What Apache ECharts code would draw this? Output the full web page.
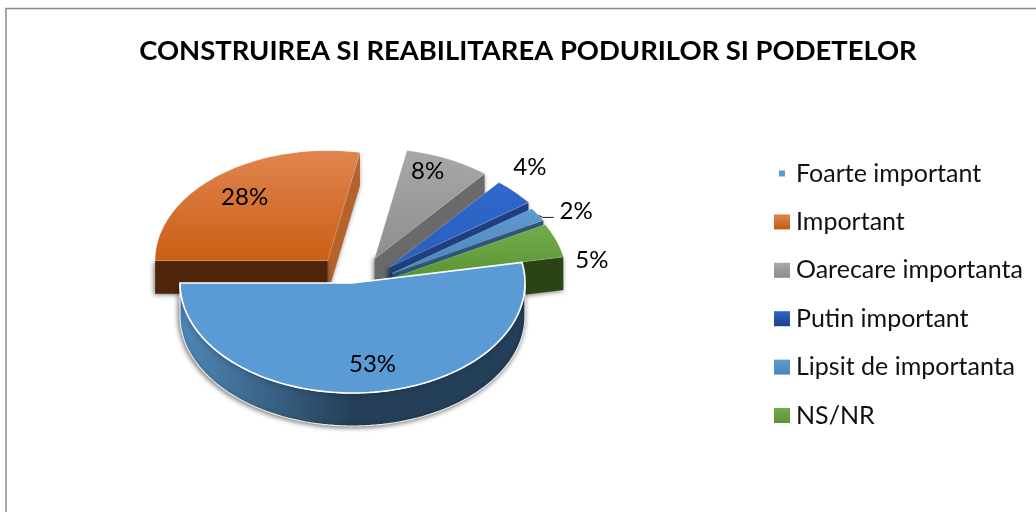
<!DOCTYPE html>
<html><head><meta charset="utf-8">
<style>html,body{margin:0;padding:0;background:#fff}#c{width:1036px;height:512px}</style>
<script src="https://cdn.jsdelivr.net/npm/echarts@6/dist/echarts.min.js"></script>
</head><body><div id="c"></div>
<script>
// ---- data ----
const categories = ['Foarte important','Important','Oarecare importanta','Putin important','Lipsit de importanta','NS/NR'];
const shares = [53, 28, 8, 4, 2, 5];
const chartTitle = 'CONSTRUIREA SI REABILITAREA PODURILOR SI PODETELOR';
// ---- layout / style (not data) ----
const firstAngle = 79.2, RX = 172.5, RY = 110, DEPTH = 33, CX = 352.5, CY = 283;
const explodeX = [0, 39, 52, 50, 47, 44];
const explodeY = [0, 29, 27, 23, 18, 16];
const labelOffset = [[20,81],[-83,-63],[53,-87],[141,-100],[184,-62],[198,-17]];
const grad = (a,b,h) => new echarts.graphic.LinearGradient(0,0,h?1:0,h?0:1,[{offset:0,color:a},{offset:1,color:b}]);
const topFill = [
  () => '#5B9BD5', () => grad('#E08550','#CB5E15'), () => grad('#A8A8A8','#8E8E8E'),
  () => grad('#2F67CC','#2C5FBC'), () => grad('#5E9BD0','#4A84BA'), () => grad('#72AD4C','#5B9433')];
const sideFill = ['#3B6E99','#B5622B','#6A6A6A','#1E3F80','#2E5476','#2A4513'];
const frontFill = [null,'#50260A',null,null,null,null];
const zOrder = [10,1,2,3,4,5];
// start angle of every slice, clockwise from the top, in data order
const starts = []; { let a = firstAngle; const tot = shares.reduce((s,v)=>s+v,0);
  shares.forEach(v => { starts.push(a); a += v/tot*360; }); }
const span = i => shares[i]/shares.reduce((s,v)=>s+v,0)*360;
const rad = d => d*Math.PI/180;

function arcPts(ax, ay, a0, a1, dy) {
  const pts = [], n = Math.max(4, Math.ceil(Math.abs(a1-a0)/2));
  for (let k=0;k<=n;k++){ const t=rad(a0+(a1-a0)*k/n);
    pts.push([ax+RX*Math.sin(t), ay-RY*Math.cos(t)+dy]); }
  return pts;
}
function render(i) {
  return function(params, api) {
    const a0 = starts[i], a1 = a0 + span(i), mid = rad((a0+a1)/2);
    const ax = CX + explodeX[i]*Math.sin(mid), ay = CY - explodeY[i]*Math.cos(mid);
    const kids = [];
    const shadow = {shadowBlur:5, shadowColor:'rgba(0,0,0,0.55)', shadowOffsetX:-1, shadowOffsetY:1};
    if (i === 0) {
      // front rim of the large slice
      const top = arcPts(ax, ay, 90, a1, 0), bot = arcPts(ax, ay, 90, a1, DEPTH);
      kids.push({type:'polygon', shape:{points: top.concat(bot.reverse())},
        style:Object.assign({fill:new echarts.graphic.LinearGradient(1,0,0,0,[
          {offset:0,color:'#24405A'},{offset:0.5,color:'#253F57'},{offset:1,color:'#4F88B8'}]),
          stroke:'#e8e8e8', lineWidth:1.2}, shadow)});
    } else {
      const c0 = arcPts(ax, ay, a1, a1, 0)[0];
      const wall = [[ax,ay],c0,[c0[0],c0[1]+DEPTH],[ax,ay+DEPTH]];
      kids.push({type:'polygon', shape:{points:wall}, style:Object.assign({fill:sideFill[i]}, shadow)});
      if (frontFill[i]) {
        const s = arcPts(ax, ay, a0, a0, 0)[0];
        kids.push({type:'polygon', shape:{points:[[ax,ay],s,[s[0],s[1]+DEPTH],[ax,ay+DEPTH]]},
          style:Object.assign({fill:frontFill[i]}, shadow)});
      }
    }
    const top = [[ax,ay]].concat(arcPts(ax, ay, a0, a1, 0));
    kids.push({type:'polygon', shape:{points:top},
      style:{fill:topFill[i](), stroke:i===0?'#ffffff':'rgba(255,255,255,0.35)', lineWidth:i===0?1.6:0.6}});
    kids.push({type:'text', z2:50, style:{
      x:ax+labelOffset[i][0], y:ay+labelOffset[i][1], text:api.value(0)+'%',
      font:'24px Lato', fill:'#000', align:'center', verticalAlign:'middle'}});
    if (categories[i]==='Lipsit de importanta') {
      const c = arcPts(ax, ay, (a0+a1)/2, (a0+a1)/2, 0)[0];
      kids.push({type:'polyline', shape:{points:[[c[0]+1,c[1]+1],[c[0]+5,c[1]+3],[c[0]+16,c[1]+3]]},
        style:{stroke:'#222',fill:null,lineWidth:1}});
    }
    return {type:'group', children:kids};
  };
}
const legendIcons = ['path://M0 0M16 15M5 4.5h6v6h-6z', 'rect','rect','rect','rect','rect'];
const legendColor = [() => '#5B9BD5', () => grad('#E08550','#C55A11'), () => grad('#AAAAAA','#8A8A8A'),
  () => grad('#2F67CC','#1E3F80'), () => grad('#5E9BD0','#4A84BA'), () => grad('#72AD4C','#5B9433')];

const chart = echarts.init(document.getElementById('c'), null, {renderer:'canvas'});
chart.setOption({
  animation:false,
  backgroundColor:'#fff',
  title:{text:chartTitle, left:523, top:33, textAlign:'center',
    textStyle:{fontFamily:'Lato', fontWeight:'bold', fontSize:27.4, color:'#000'}},
  legend:{left:769, top:156, orient:'vertical', itemWidth:16, itemHeight:15, itemGap:23.4,
    textStyle:{fontFamily:'Lato', fontSize:25, color:'#111', padding:[0,0,0,1]}, 
    data:categories.map((n,i)=>({name:n, icon:legendIcons[i], itemStyle:{color:legendColor[i]()}}))},
  xAxis:{show:false}, yAxis:{show:false},
  graphic:[{type:'rect', silent:true, z:-1, shape:{x:6,y:8.5,width:1100,height:600},
    style:{fill:'#fff', stroke:'#8a8a8a', lineWidth:1.5}}],
  series:categories.map((n,i)=>({
    type:'custom', name:n, coordinateSystem:'none', z:zOrder[i], silent:true,
    data:[[shares[i]]], renderItem:render(i)
  }))
});
</script></body></html>
